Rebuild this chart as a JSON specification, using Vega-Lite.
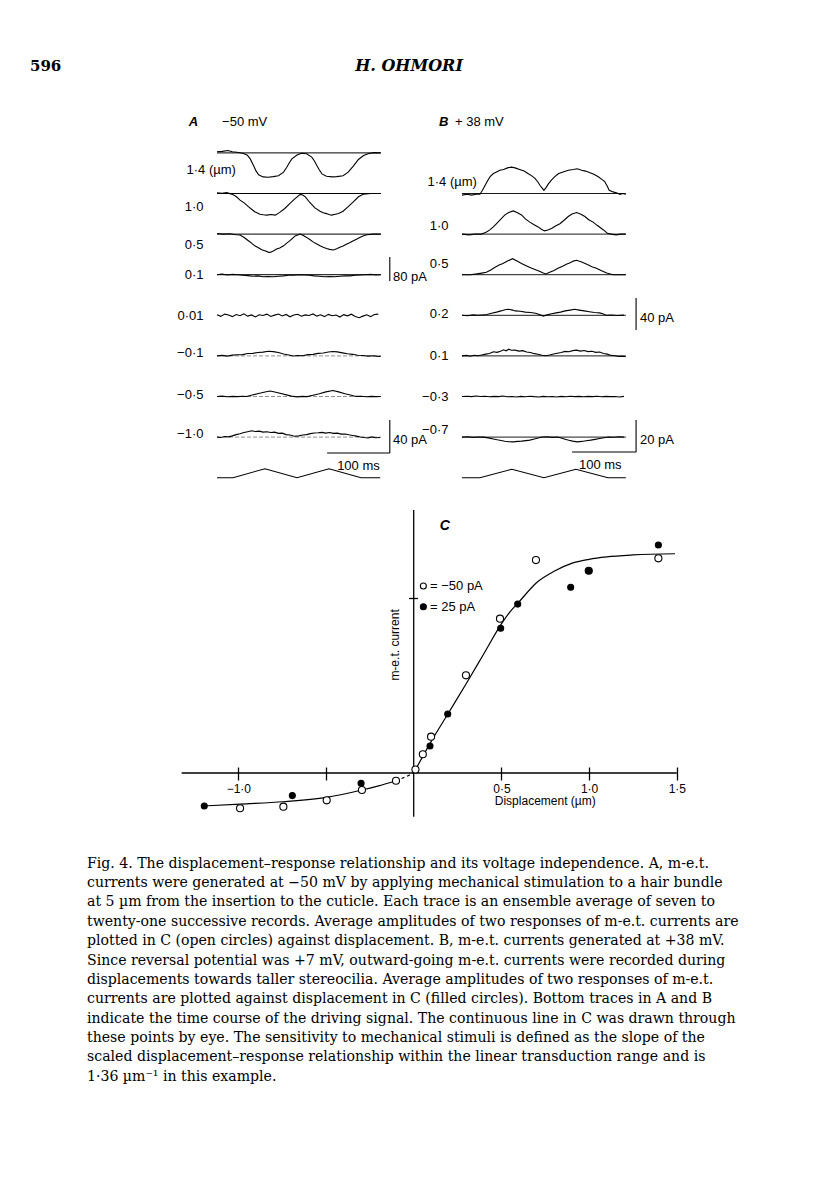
{
"$schema": "https://vega.github.io/schema/vega-lite/v6.json",
"background": "white",
"padding": 0,
"spacing": 0,
"config": {"view": {"stroke": null}},
"title": {
  "text": [
    "Fig. 4. The displacement–response relationship and its voltage independence. A, m-e.t.",
    "currents were generated at −50 mV by applying mechanical stimulation to a hair bundle",
    "at 5 µm from the insertion to the cuticle. Each trace is an ensemble average of seven to",
    "twenty-one successive records. Average amplitudes of two responses of m-e.t. currents are",
    "plotted in C (open circles) against displacement. B, m-e.t. currents generated at +38 mV.",
    "Since reversal potential was +7 mV, outward-going m-e.t. currents were recorded during",
    "displacements towards taller stereocilia. Average amplitudes of two responses of m-e.t.",
    "currents are plotted against displacement in C (filled circles). Bottom traces in A and B",
    "indicate the time course of the driving signal. The continuous line in C was drawn through",
    "these points by eye. The sensitivity to mechanical stimuli is defined as the slope of the",
    "scaled displacement–response relationship within the linear transduction range and is",
    "1·36 µm⁻¹ in this example."
  ],
  "orient": "bottom", "anchor": "start", "frame": "group", "dx": 87, "offset": 26.5,
  "font": "DejaVu Serif", "fontSize": 14.1, "fontWeight": "normal", "color": "black", "lineHeight": 19.4
},
"datasets": {
  "A_top": [
    {"r":"1·4 (µm)","t":0,"i":4},{"r":"1·4 (µm)","t":8,"i":5},{"r":"1·4 (µm)","t":17,"i":8},{"r":"1·4 (µm)","t":24,"i":4},{"r":"1·4 (µm)","t":31,"i":2},{"r":"1·4 (µm)","t":40,"i":-1},{"r":"1·4 (µm)","t":47,"i":-7},{"r":"1·4 (µm)","t":52,"i":-20},{"r":"1·4 (µm)","t":57,"i":-42},{"r":"1·4 (µm)","t":61,"i":-60},{"r":"1·4 (µm)","t":65,"i":-73},{"r":"1·4 (µm)","t":72,"i":-80},{"r":"1·4 (µm)","t":80,"i":-81},{"r":"1·4 (µm)","t":88,"i":-79},{"r":"1·4 (µm)","t":96,"i":-76},{"r":"1·4 (µm)","t":104,"i":-64},{"r":"1·4 (µm)","t":109,"i":-48},{"r":"1·4 (µm)","t":113,"i":-33},{"r":"1·4 (µm)","t":117,"i":-20},{"r":"1·4 (µm)","t":125,"i":-7},{"r":"1·4 (µm)","t":132,"i":-1},{"r":"1·4 (µm)","t":140,"i":-3},{"r":"1·4 (µm)","t":148,"i":-14},{"r":"1·4 (µm)","t":152,"i":-26},{"r":"1·4 (µm)","t":156,"i":-42},{"r":"1·4 (µm)","t":160,"i":-57},{"r":"1·4 (µm)","t":164,"i":-70},{"r":"1·4 (µm)","t":171,"i":-78},{"r":"1·4 (µm)","t":180,"i":-80},{"r":"1·4 (µm)","t":187,"i":-79},{"r":"1·4 (µm)","t":197,"i":-76},{"r":"1·4 (µm)","t":205,"i":-64},{"r":"1·4 (µm)","t":213,"i":-44},{"r":"1·4 (µm)","t":221,"i":-22},{"r":"1·4 (µm)","t":229,"i":-9},{"r":"1·4 (µm)","t":236,"i":-3},{"r":"1·4 (µm)","t":245,"i":1},{"r":"1·4 (µm)","t":256,"i":0},
    {"r":"1·0","t":0,"i":2},{"r":"1·0","t":8,"i":1},{"r":"1·0","t":15,"i":3},{"r":"1·0","t":23,"i":-2},{"r":"1·0","t":30,"i":-10},{"r":"1·0","t":36,"i":-22},{"r":"1·0","t":43,"i":-32},{"r":"1·0","t":49,"i":-44},{"r":"1·0","t":55,"i":-54},{"r":"1·0","t":59,"i":-61},{"r":"1·0","t":64,"i":-66},{"r":"1·0","t":67,"i":-69},{"r":"1·0","t":72,"i":-71},{"r":"1·0","t":78,"i":-72},{"r":"1·0","t":84,"i":-70},{"r":"1·0","t":91,"i":-72},{"r":"1·0","t":98,"i":-63},{"r":"1·0","t":106,"i":-50},{"r":"1·0","t":114,"i":-33},{"r":"1·0","t":122,"i":-17},{"r":"1·0","t":130,"i":-3},{"r":"1·0","t":134,"i":-5},{"r":"1·0","t":138,"i":-11},{"r":"1·0","t":145,"i":-30},{"r":"1·0","t":153,"i":-48},{"r":"1·0","t":161,"i":-59},{"r":"1·0","t":166,"i":-64},{"r":"1·0","t":171,"i":-67},{"r":"1·0","t":176,"i":-71},{"r":"1·0","t":179,"i":-72},{"r":"1·0","t":185,"i":-69},{"r":"1·0","t":190,"i":-67},{"r":"1·0","t":197,"i":-59},{"r":"1·0","t":205,"i":-44},{"r":"1·0","t":213,"i":-28},{"r":"1·0","t":221,"i":-11},{"r":"1·0","t":229,"i":-2},{"r":"1·0","t":240,"i":0},{"r":"1·0","t":256,"i":0},
    {"r":"0·5","t":0,"i":2},{"r":"0·5","t":10,"i":0},{"r":"0·5","t":20,"i":1},{"r":"0·5","t":30,"i":-2},{"r":"0·5","t":36,"i":-3},{"r":"0·5","t":43,"i":-12},{"r":"0·5","t":49,"i":-22},{"r":"0·5","t":54,"i":-30},{"r":"0·5","t":59,"i":-39},{"r":"0·5","t":64,"i":-45},{"r":"0·5","t":70,"i":-52},{"r":"0·5","t":76,"i":-56},{"r":"0·5","t":80,"i":-60},{"r":"0·5","t":83,"i":-61},{"r":"0·5","t":88,"i":-56},{"r":"0·5","t":93,"i":-50},{"r":"0·5","t":98,"i":-46},{"r":"0·5","t":104,"i":-39},{"r":"0·5","t":109,"i":-30},{"r":"0·5","t":114,"i":-22},{"r":"0·5","t":118,"i":-14},{"r":"0·5","t":122,"i":-6},{"r":"0·5","t":130,"i":0},{"r":"0·5","t":135,"i":-5},{"r":"0·5","t":140,"i":-11},{"r":"0·5","t":145,"i":-18},{"r":"0·5","t":150,"i":-26},{"r":"0·5","t":156,"i":-33},{"r":"0·5","t":161,"i":-39},{"r":"0·5","t":166,"i":-44},{"r":"0·5","t":171,"i":-48},{"r":"0·5","t":176,"i":-51},{"r":"0·5","t":182,"i":-53},{"r":"0·5","t":187,"i":-49},{"r":"0·5","t":192,"i":-44},{"r":"0·5","t":197,"i":-40},{"r":"0·5","t":203,"i":-33},{"r":"0·5","t":208,"i":-28},{"r":"0·5","t":213,"i":-22},{"r":"0·5","t":218,"i":-17},{"r":"0·5","t":223,"i":-11},{"r":"0·5","t":228,"i":-6},{"r":"0·5","t":234,"i":-2},{"r":"0·5","t":245,"i":0},{"r":"0·5","t":256,"i":0},
    {"r":"0·1","t":0,"i":0},{"r":"0·1","t":8,"i":2},{"r":"0·1","t":16,"i":-1},{"r":"0·1","t":24,"i":1},{"r":"0·1","t":32,"i":0},{"r":"0·1","t":40,"i":-2},{"r":"0·1","t":48,"i":-3},{"r":"0·1","t":56,"i":-5},{"r":"0·1","t":64,"i":-4},{"r":"0·1","t":72,"i":-7},{"r":"0·1","t":80,"i":-6},{"r":"0·1","t":88,"i":-7},{"r":"0·1","t":96,"i":-5},{"r":"0·1","t":104,"i":-4},{"r":"0·1","t":112,"i":-2},{"r":"0·1","t":120,"i":-2},{"r":"0·1","t":128,"i":0},{"r":"0·1","t":136,"i":-1},{"r":"0·1","t":144,"i":-2},{"r":"0·1","t":152,"i":-4},{"r":"0·1","t":160,"i":-5},{"r":"0·1","t":168,"i":-7},{"r":"0·1","t":176,"i":-6},{"r":"0·1","t":184,"i":-7},{"r":"0·1","t":192,"i":-5},{"r":"0·1","t":200,"i":-4},{"r":"0·1","t":208,"i":-4},{"r":"0·1","t":216,"i":-2},{"r":"0·1","t":224,"i":-1},{"r":"0·1","t":232,"i":0},{"r":"0·1","t":240,"i":1},{"r":"0·1","t":248,"i":-1},{"r":"0·1","t":256,"i":0},
    {"r":"0·1","s":"80 pA","t":270,"i":-21},{"r":"0·1","s":"80 pA","t":270,"i":59}
  ],
  "A_bot": [
    {"r":"0·01","t":0,"i":0.8},{"r":"0·01","t":6,"i":-1.3},{"r":"0·01","t":12,"i":1.4},{"r":"0·01","t":18,"i":0.3},{"r":"0·01","t":24,"i":-1.6},{"r":"0·01","t":30,"i":1.0},{"r":"0·01","t":36,"i":-0.5},{"r":"0·01","t":42,"i":1.8},{"r":"0·01","t":48,"i":-1.0},{"r":"0·01","t":54,"i":0.5},{"r":"0·01","t":60,"i":-1.9},{"r":"0·01","t":66,"i":0.6},{"r":"0·01","t":72,"i":-0.3},{"r":"0·01","t":78,"i":1.4},{"r":"0·01","t":84,"i":-1.4},{"r":"0·01","t":90,"i":0.2},{"r":"0·01","t":96,"i":1.6},{"r":"0·01","t":102,"i":-0.8},{"r":"0·01","t":108,"i":1.0},{"r":"0·01","t":114,"i":-1.8},{"r":"0·01","t":120,"i":0.3},{"r":"0·01","t":126,"i":1.3},{"r":"0·01","t":132,"i":-1.1},{"r":"0·01","t":138,"i":0.5},{"r":"0·01","t":144,"i":-0.3},{"r":"0·01","t":150,"i":1.6},{"r":"0·01","t":156,"i":-1.0},{"r":"0·01","t":162,"i":0.6},{"r":"0·01","t":168,"i":-1.6},{"r":"0·01","t":174,"i":1.1},{"r":"0·01","t":180,"i":-0.5},{"r":"0·01","t":186,"i":0.3},{"r":"0·01","t":192,"i":-2.1},{"r":"0·01","t":198,"i":0.8},{"r":"0·01","t":204,"i":-0.6},{"r":"0·01","t":210,"i":1.3},{"r":"0·01","t":216,"i":-1.4},{"r":"0·01","t":222,"i":-2.9},{"r":"0·01","t":228,"i":-1.0},{"r":"0·01","t":234,"i":0.6},{"r":"0·01","t":240,"i":-1.6},{"r":"0·01","t":246,"i":1.0},{"r":"0·01","t":252,"i":1.4},
    {"r":"−0·1","t":0,"i":0},{"r":"−0·1","t":8,"i":0.6},{"r":"−0·1","t":16,"i":-0.3},{"r":"−0·1","t":24,"i":0.9},{"r":"−0·1","t":32,"i":1.4},{"r":"−0·1","t":40,"i":1.6},{"r":"−0·1","t":48,"i":2.9},{"r":"−0·1","t":56,"i":3.1},{"r":"−0·1","t":64,"i":4.2},{"r":"−0·1","t":72,"i":4.6},{"r":"−0·1","t":80,"i":5.6},{"r":"−0·1","t":88,"i":5.2},{"r":"−0·1","t":96,"i":4.1},{"r":"−0·1","t":104,"i":2.4},{"r":"−0·1","t":112,"i":1.1},{"r":"−0·1","t":119,"i":-0.2},{"r":"−0·1","t":126,"i":0.4},{"r":"−0·1","t":134,"i":0.2},{"r":"−0·1","t":142,"i":1.5},{"r":"−0·1","t":150,"i":1.9},{"r":"−0·1","t":158,"i":3.1},{"r":"−0·1","t":166,"i":3.6},{"r":"−0·1","t":174,"i":4.8},{"r":"−0·1","t":181,"i":5.4},{"r":"−0·1","t":188,"i":4.9},{"r":"−0·1","t":196,"i":3.7},{"r":"−0·1","t":204,"i":2.6},{"r":"−0·1","t":212,"i":1.9},{"r":"−0·1","t":220,"i":0.8},{"r":"−0·1","t":228,"i":0.5},{"r":"−0·1","t":236,"i":-0.3},{"r":"−0·1","t":244,"i":0.1},{"r":"−0·1","t":252,"i":-0.6},{"r":"−0·1","t":256,"i":-0.4},
    {"r":"−0·5","t":0,"i":0},{"r":"−0·5","t":8,"i":0.4},{"r":"−0·5","t":16,"i":-0.3},{"r":"−0·5","t":24,"i":0.2},{"r":"−0·5","t":32,"i":-0.2},{"r":"−0·5","t":40,"i":0.3},{"r":"−0·5","t":46,"i":0},{"r":"−0·5","t":55,"i":1.8},{"r":"−0·5","t":65,"i":3.6},{"r":"−0·5","t":75,"i":5.4},{"r":"−0·5","t":83,"i":6.6},{"r":"−0·5","t":92,"i":5.2},{"r":"−0·5","t":100,"i":3.6},{"r":"−0·5","t":110,"i":1.7},{"r":"−0·5","t":119,"i":0.1},{"r":"−0·5","t":126,"i":-0.4},{"r":"−0·5","t":133,"i":0.2},{"r":"−0·5","t":141,"i":-0.1},{"r":"−0·5","t":150,"i":1.6},{"r":"−0·5","t":160,"i":3.4},{"r":"−0·5","t":170,"i":5.6},{"r":"−0·5","t":181,"i":7.2},{"r":"−0·5","t":190,"i":5.6},{"r":"−0·5","t":200,"i":3.4},{"r":"−0·5","t":210,"i":1.6},{"r":"−0·5","t":217,"i":0.1},{"r":"−0·5","t":225,"i":0.3},{"r":"−0·5","t":233,"i":-0.3},{"r":"−0·5","t":241,"i":0.2},{"r":"−0·5","t":249,"i":-0.2},{"r":"−0·5","t":256,"i":0},
    {"r":"−1·0","t":0,"i":0},{"r":"−1·0","t":6,"i":-0.5},{"r":"−1·0","t":12,"i":0.8},{"r":"−1·0","t":18,"i":0.3},{"r":"−1·0","t":24,"i":1.5},{"r":"−1·0","t":30,"i":3},{"r":"−1·0","t":36,"i":4},{"r":"−1·0","t":42,"i":5.5},{"r":"−1·0","t":48,"i":6.5},{"r":"−1·0","t":54,"i":7.6},{"r":"−1·0","t":60,"i":6.8},{"r":"−1·0","t":66,"i":7.2},{"r":"−1·0","t":72,"i":6},{"r":"−1·0","t":78,"i":6.5},{"r":"−1·0","t":84,"i":5.5},{"r":"−1·0","t":90,"i":6},{"r":"−1·0","t":96,"i":4.5},{"r":"−1·0","t":102,"i":4.8},{"r":"−1·0","t":108,"i":3},{"r":"−1·0","t":114,"i":2.5},{"r":"−1·0","t":121,"i":1},{"r":"−1·0","t":128,"i":1.5},{"r":"−1·0","t":134,"i":2.5},{"r":"−1·0","t":140,"i":3},{"r":"−1·0","t":146,"i":4.2},{"r":"−1·0","t":152,"i":5},{"r":"−1·0","t":158,"i":5.2},{"r":"−1·0","t":164,"i":5.7},{"r":"−1·0","t":170,"i":4.8},{"r":"−1·0","t":176,"i":5.5},{"r":"−1·0","t":182,"i":4.5},{"r":"−1·0","t":188,"i":4.8},{"r":"−1·0","t":194,"i":3.6},{"r":"−1·0","t":200,"i":3.8},{"r":"−1·0","t":206,"i":2.8},{"r":"−1·0","t":212,"i":2},{"r":"−1·0","t":218,"i":1.2},{"r":"−1·0","t":224,"i":0.2},{"r":"−1·0","t":230,"i":-0.5},{"r":"−1·0","t":236,"i":-1},{"r":"−1·0","t":242,"i":0.2},{"r":"−1·0","t":248,"i":-0.8},{"r":"−1·0","t":255,"i":-0.5},
    {"r":"−1·0","s":"40 pA","t":270,"i":20.7},{"r":"−1·0","s":"40 pA","t":270,"i":-19.3},
    {"r":"−1·0","s":"100 ms","t":172,"i":-19.3},{"r":"−1·0","s":"100 ms","t":270,"i":-19.3}
  ],
  "A_drive": [
    {"r":"drive","t":0,"i":0},{"r":"drive","t":25,"i":0},{"r":"drive","t":75,"i":1},{"r":"drive","t":125,"i":0},{"r":"drive","t":175,"i":1},{"r":"drive","t":225,"i":0},{"r":"drive","t":255,"i":0}
  ],
  "A_base": [
    {"r":"1·4 (µm)","t0":0,"t1":256,"k":"solid"},{"r":"1·0","t0":0,"t1":256,"k":"solid"},{"r":"0·5","t0":0,"t1":256,"k":"solid"},{"r":"0·1","t0":0,"t1":256,"k":"solid"},
    {"r":"−0·1","t0":0,"t1":256,"k":"faint"},{"r":"−0·5","t0":0,"t1":256,"k":"faint"},{"r":"−1·0","t0":0,"t1":256,"k":"faint"}
  ],
  "B_top": [
    {"r":"1·4 (µm)","t":-3,"i":-2},{"r":"1·4 (µm)","t":5,"i":-1},{"r":"1·4 (µm)","t":12,"i":-2},{"r":"1·4 (µm)","t":19,"i":-1},{"r":"1·4 (µm)","t":25,"i":-1},{"r":"1·4 (µm)","t":29,"i":4},{"r":"1·4 (µm)","t":33,"i":10},{"r":"1·4 (µm)","t":37,"i":16},{"r":"1·4 (µm)","t":41,"i":21},{"r":"1·4 (µm)","t":46,"i":25},{"r":"1·4 (µm)","t":51,"i":27},{"r":"1·4 (µm)","t":56,"i":29},{"r":"1·4 (µm)","t":62,"i":30},{"r":"1·4 (µm)","t":68,"i":32},{"r":"1·4 (µm)","t":74,"i":33},{"r":"1·4 (µm)","t":80,"i":32},{"r":"1·4 (µm)","t":87,"i":30},{"r":"1·4 (µm)","t":94,"i":28},{"r":"1·4 (µm)","t":100,"i":25},{"r":"1·4 (µm)","t":106,"i":22},{"r":"1·4 (µm)","t":111,"i":19},{"r":"1·4 (µm)","t":115,"i":15},{"r":"1·4 (µm)","t":119,"i":10},{"r":"1·4 (µm)","t":122,"i":7},{"r":"1·4 (µm)","t":125,"i":4},{"r":"1·4 (µm)","t":128,"i":7},{"r":"1·4 (µm)","t":132,"i":12},{"r":"1·4 (µm)","t":137,"i":17},{"r":"1·4 (µm)","t":142,"i":21},{"r":"1·4 (µm)","t":148,"i":25},{"r":"1·4 (µm)","t":155,"i":27},{"r":"1·4 (µm)","t":163,"i":29},{"r":"1·4 (µm)","t":171,"i":30},{"r":"1·4 (µm)","t":177,"i":31},{"r":"1·4 (µm)","t":184,"i":29},{"r":"1·4 (µm)","t":190,"i":28},{"r":"1·4 (µm)","t":197,"i":26},{"r":"1·4 (µm)","t":203,"i":24},{"r":"1·4 (µm)","t":210,"i":21},{"r":"1·4 (µm)","t":215,"i":18},{"r":"1·4 (µm)","t":220,"i":15},{"r":"1·4 (µm)","t":224,"i":9},{"r":"1·4 (µm)","t":227,"i":4},{"r":"1·4 (µm)","t":233,"i":2},{"r":"1·4 (µm)","t":238,"i":1},{"r":"1·4 (µm)","t":244,"i":-1},{"r":"1·4 (µm)","t":248,"i":0},{"r":"1·4 (µm)","t":253,"i":-1},
    {"r":"1·0","t":-3,"i":0},{"r":"1·0","t":8,"i":-1},{"r":"1·0","t":17,"i":0},{"r":"1·0","t":27,"i":0},{"r":"1·0","t":34,"i":2},{"r":"1·0","t":40,"i":5},{"r":"1·0","t":46,"i":9},{"r":"1·0","t":51,"i":13},{"r":"1·0","t":57,"i":18},{"r":"1·0","t":64,"i":24},{"r":"1·0","t":70,"i":27},{"r":"1·0","t":77,"i":29},{"r":"1·0","t":83,"i":27},{"r":"1·0","t":90,"i":24},{"r":"1·0","t":96,"i":19},{"r":"1·0","t":103,"i":15},{"r":"1·0","t":109,"i":12},{"r":"1·0","t":116,"i":9},{"r":"1·0","t":121,"i":6},{"r":"1·0","t":126,"i":4},{"r":"1·0","t":131,"i":5},{"r":"1·0","t":137,"i":7},{"r":"1·0","t":143,"i":10},{"r":"1·0","t":150,"i":13},{"r":"1·0","t":156,"i":17},{"r":"1·0","t":163,"i":22},{"r":"1·0","t":169,"i":25},{"r":"1·0","t":176,"i":27},{"r":"1·0","t":182,"i":25},{"r":"1·0","t":189,"i":22},{"r":"1·0","t":195,"i":18},{"r":"1·0","t":202,"i":15},{"r":"1·0","t":208,"i":11},{"r":"1·0","t":215,"i":7},{"r":"1·0","t":220,"i":4},{"r":"1·0","t":224,"i":1},{"r":"1·0","t":230,"i":0},{"r":"1·0","t":238,"i":-1},{"r":"1·0","t":245,"i":0},{"r":"1·0","t":253,"i":0},
    {"r":"0·5","t":-3,"i":0},{"r":"0·5","t":10,"i":0},{"r":"0·5","t":20,"i":1},{"r":"0·5","t":28,"i":2},{"r":"0·5","t":35,"i":3},{"r":"0·5","t":42,"i":6},{"r":"0·5","t":48,"i":9},{"r":"0·5","t":55,"i":12},{"r":"0·5","t":61,"i":14},{"r":"0·5","t":68,"i":17},{"r":"0·5","t":76,"i":20},{"r":"0·5","t":83,"i":17},{"r":"0·5","t":90,"i":14},{"r":"0·5","t":98,"i":11},{"r":"0·5","t":106,"i":8},{"r":"0·5","t":113,"i":6},{"r":"0·5","t":119,"i":4},{"r":"0·5","t":124,"i":2},{"r":"0·5","t":128,"i":1},{"r":"0·5","t":134,"i":3},{"r":"0·5","t":140,"i":5},{"r":"0·5","t":147,"i":8},{"r":"0·5","t":155,"i":11},{"r":"0·5","t":160,"i":13},{"r":"0·5","t":166,"i":15},{"r":"0·5","t":171,"i":17},{"r":"0·5","t":176,"i":18},{"r":"0·5","t":184,"i":16},{"r":"0·5","t":192,"i":13},{"r":"0·5","t":200,"i":10},{"r":"0·5","t":207,"i":8},{"r":"0·5","t":215,"i":5},{"r":"0·5","t":223,"i":2},{"r":"0·5","t":233,"i":0},{"r":"0·5","t":243,"i":0},{"r":"0·5","t":253,"i":0},
    {"r":"0·2","t":-3,"i":0},{"r":"0·2","t":6,"i":-0.5},{"r":"0·2","t":14,"i":0.5},{"r":"0·2","t":22,"i":0},{"r":"0·2","t":30,"i":0.5},{"r":"0·2","t":36,"i":1},{"r":"0·2","t":43,"i":2.5},{"r":"0·2","t":51,"i":4},{"r":"0·2","t":58,"i":5.5},{"r":"0·2","t":64,"i":7},{"r":"0·2","t":70,"i":7.5},{"r":"0·2","t":76,"i":6.5},{"r":"0·2","t":80,"i":5.5},{"r":"0·2","t":88,"i":5},{"r":"0·2","t":96,"i":4},{"r":"0·2","t":104,"i":3.5},{"r":"0·2","t":112,"i":2.5},{"r":"0·2","t":118,"i":1},{"r":"0·2","t":124,"i":-1},{"r":"0·2","t":130,"i":0.5},{"r":"0·2","t":137,"i":2},{"r":"0·2","t":144,"i":3},{"r":"0·2","t":151,"i":4},{"r":"0·2","t":158,"i":5.5},{"r":"0·2","t":166,"i":6.5},{"r":"0·2","t":173,"i":7.5},{"r":"0·2","t":180,"i":6.5},{"r":"0·2","t":188,"i":5.5},{"r":"0·2","t":196,"i":4.5},{"r":"0·2","t":204,"i":3.5},{"r":"0·2","t":212,"i":3},{"r":"0·2","t":218,"i":1.5},{"r":"0·2","t":222,"i":0},{"r":"0·2","t":230,"i":0.3},{"r":"0·2","t":240,"i":-0.3},{"r":"0·2","t":250,"i":0.2},
    {"r":"0·2","s":"40 pA","t":269,"i":21.6},{"r":"0·2","s":"40 pA","t":269,"i":-18.4}
  ],
  "B_bot": [
    {"r":"0·1","t":-3,"i":0},{"r":"0·1","t":4,"i":0.3},{"r":"0·1","t":10,"i":-0.2},{"r":"0·1","t":16,"i":0.4},{"r":"0·1","t":22,"i":0.1},{"r":"0·1","t":28,"i":0.6},{"r":"0·1","t":34,"i":1.1},{"r":"0·1","t":40,"i":1.5},{"r":"0·1","t":46,"i":2.6},{"r":"0·1","t":52,"i":2.2},{"r":"0·1","t":58,"i":3.1},{"r":"0·1","t":62,"i":3.8},{"r":"0·1","t":66,"i":3.2},{"r":"0·1","t":70,"i":4.2},{"r":"0·1","t":74,"i":3.5},{"r":"0·1","t":80,"i":3.6},{"r":"0·1","t":86,"i":3.0},{"r":"0·1","t":92,"i":3.3},{"r":"0·1","t":98,"i":2.4},{"r":"0·1","t":104,"i":2.1},{"r":"0·1","t":110,"i":1.4},{"r":"0·1","t":116,"i":1.0},{"r":"0·1","t":122,"i":0.4},{"r":"0·1","t":128,"i":0.1},{"r":"0·1","t":134,"i":0.6},{"r":"0·1","t":140,"i":1.2},{"r":"0·1","t":146,"i":1.7},{"r":"0·1","t":152,"i":2.1},{"r":"0·1","t":158,"i":2.8},{"r":"0·1","t":164,"i":2.6},{"r":"0·1","t":170,"i":3.3},{"r":"0·1","t":176,"i":3.6},{"r":"0·1","t":182,"i":3.0},{"r":"0·1","t":188,"i":3.4},{"r":"0·1","t":194,"i":2.7},{"r":"0·1","t":200,"i":2.9},{"r":"0·1","t":206,"i":2.2},{"r":"0·1","t":212,"i":2.4},{"r":"0·1","t":218,"i":1.5},{"r":"0·1","t":224,"i":1.1},{"r":"0·1","t":230,"i":0.3},{"r":"0·1","t":236,"i":0.1},{"r":"0·1","t":242,"i":-0.4},{"r":"0·1","t":248,"i":-0.2},{"r":"0·1","t":253,"i":-0.5},
    {"r":"−0·3","t":-3,"i":0},{"r":"−0·3","t":5,"i":0.2},{"r":"−0·3","t":12,"i":-0.1},{"r":"−0·3","t":19,"i":0.3},{"r":"−0·3","t":26,"i":0.0},{"r":"−0·3","t":33,"i":0.2},{"r":"−0·3","t":40,"i":-0.2},{"r":"−0·3","t":47,"i":0.1},{"r":"−0·3","t":54,"i":-0.1},{"r":"−0·3","t":61,"i":0.3},{"r":"−0·3","t":68,"i":-0.2},{"r":"−0·3","t":75,"i":0.0},{"r":"−0·3","t":82,"i":-0.3},{"r":"−0·3","t":89,"i":0.1},{"r":"−0·3","t":96,"i":-0.2},{"r":"−0·3","t":103,"i":0.2},{"r":"−0·3","t":110,"i":-0.1},{"r":"−0·3","t":117,"i":-0.3},{"r":"−0·3","t":124,"i":0.1},{"r":"−0·3","t":131,"i":-0.2},{"r":"−0·3","t":138,"i":0.0},{"r":"−0·3","t":145,"i":-0.3},{"r":"−0·3","t":152,"i":0.1},{"r":"−0·3","t":159,"i":-0.2},{"r":"−0·3","t":166,"i":0.2},{"r":"−0·3","t":173,"i":-0.1},{"r":"−0·3","t":180,"i":0.1},{"r":"−0·3","t":187,"i":-0.2},{"r":"−0·3","t":194,"i":0.1},{"r":"−0·3","t":201,"i":-0.1},{"r":"−0·3","t":208,"i":0.2},{"r":"−0·3","t":215,"i":-0.2},{"r":"−0·3","t":222,"i":0.1},{"r":"−0·3","t":229,"i":-0.1},{"r":"−0·3","t":236,"i":0.0},{"r":"−0·3","t":243,"i":-0.3},{"r":"−0·3","t":250,"i":0.1},
    {"r":"−0·7","t":-3,"i":0},{"r":"−0·7","t":6,"i":0.2},{"r":"−0·7","t":14,"i":-0.2},{"r":"−0·7","t":22,"i":0.1},{"r":"−0·7","t":30,"i":0},{"r":"−0·7","t":38,"i":-0.5},{"r":"−0·7","t":46,"i":-1.2},{"r":"−0·7","t":52,"i":-1.7},{"r":"−0·7","t":58,"i":-2.1},{"r":"−0·7","t":64,"i":-2.6},{"r":"−0·7","t":70,"i":-2.9},{"r":"−0·7","t":77,"i":-3.0},{"r":"−0·7","t":84,"i":-2.7},{"r":"−0·7","t":90,"i":-2.5},{"r":"−0·7","t":97,"i":-2.2},{"r":"−0·7","t":103,"i":-1.9},{"r":"−0·7","t":110,"i":-1.2},{"r":"−0·7","t":116,"i":-0.6},{"r":"−0·7","t":122,"i":0.1},{"r":"−0·7","t":130,"i":0.2},{"r":"−0·7","t":138,"i":-0.2},{"r":"−0·7","t":146,"i":0.1},{"r":"−0·7","t":152,"i":-0.6},{"r":"−0·7","t":158,"i":-1.3},{"r":"−0·7","t":164,"i":-2.0},{"r":"−0·7","t":170,"i":-2.5},{"r":"−0·7","t":177,"i":-3.0},{"r":"−0·7","t":184,"i":-2.7},{"r":"−0·7","t":191,"i":-2.3},{"r":"−0·7","t":198,"i":-1.9},{"r":"−0·7","t":205,"i":-1.4},{"r":"−0·7","t":212,"i":-0.9},{"r":"−0·7","t":219,"i":-0.4},{"r":"−0·7","t":226,"i":0.1},{"r":"−0·7","t":234,"i":-0.1},{"r":"−0·7","t":242,"i":0.2},{"r":"−0·7","t":250,"i":0},
    {"r":"−0·7","s":"20 pA","t":269,"i":10.7},{"r":"−0·7","s":"20 pA","t":269,"i":-9.3},
    {"r":"−0·7","s":"100 ms","t":169,"i":-9.3},{"r":"−0·7","s":"100 ms","t":269,"i":-9.3}
  ],
  "B_drive": [
    {"r":"drive","t":-3,"i":0},{"r":"drive","t":25,"i":0},{"r":"drive","t":75,"i":1},{"r":"drive","t":125,"i":0},{"r":"drive","t":175,"i":1},{"r":"drive","t":225,"i":0},{"r":"drive","t":253,"i":0}
  ],
  "B_base": [
    {"r":"1·4 (µm)","t0":-3,"t1":253,"k":"dashdot"},{"r":"1·0","t0":-3,"t1":253,"k":"dashdot"},{"r":"0·5","t0":-3,"t1":253,"k":"dashdot"},{"r":"0·2","t0":-3,"t1":253,"k":"dashdot"},{"r":"0·1","t0":-3,"t1":253,"k":"dashdot"},{"r":"−0·7","t0":-3,"t1":253,"k":"dashdot"}
  ],
  "C_pts": [
    {"Vh":"−50 mV","d":-0.99,"y":-0.201},{"Vh":"−50 mV","d":-0.743,"y":-0.192},{"Vh":"−50 mV","d":-0.496,"y":-0.156},{"Vh":"−50 mV","d":-0.295,"y":-0.097},{"Vh":"−50 mV","d":-0.101,"y":-0.044},{"Vh":"−50 mV","d":0.01,"y":0.02},{"Vh":"−50 mV","d":0.052,"y":0.107},{"Vh":"−50 mV","d":0.099,"y":0.207},{"Vh":"−50 mV","d":0.298,"y":0.557},{"Vh":"−50 mV","d":0.492,"y":0.88},{"Vh":"−50 mV","d":0.697,"y":1.214},{"Vh":"−50 mV","d":0.998,"y":1.153},{"Vh":"−50 mV","d":1.395,"y":1.224},
    {"Vh":"+38 mV","d":-1.194,"y":-0.188},{"Vh":"+38 mV","d":-0.692,"y":-0.129},{"Vh":"+38 mV","d":-0.3,"y":-0.059},{"Vh":"+38 mV","d":0.093,"y":0.154},{"Vh":"+38 mV","d":0.194,"y":0.336},{"Vh":"+38 mV","d":0.496,"y":0.825},{"Vh":"+38 mV","d":0.593,"y":0.963},{"Vh":"+38 mV","d":0.895,"y":1.059},{"Vh":"+38 mV","d":0.998,"y":1.153},{"Vh":"+38 mV","d":1.395,"y":1.3}
  ],
  "C_curve": [
    {"seg":"left","d":-1.194,"y":-0.188},{"seg":"left","d":-0.99,"y":-0.177},{"seg":"left","d":-0.743,"y":-0.164},{"seg":"left","d":-0.496,"y":-0.139},{"seg":"left","d":-0.295,"y":-0.097},{"seg":"left","d":-0.2,"y":-0.073},{"seg":"left","d":-0.101,"y":-0.044},
    {"seg":"dash","d":-0.101,"y":-0.044},{"seg":"dash","d":-0.05,"y":-0.024},{"seg":"dash","d":0,"y":0},
    {"seg":"right","d":0,"y":0},{"seg":"right","d":0.1,"y":0.18},{"seg":"right","d":0.2,"y":0.345},{"seg":"right","d":0.3,"y":0.51},{"seg":"right","d":0.4,"y":0.68},{"seg":"right","d":0.5,"y":0.85},{"seg":"right","d":0.55,"y":0.92},{"seg":"right","d":0.6,"y":0.975},{"seg":"right","d":0.7,"y":1.085},{"seg":"right","d":0.8,"y":1.15},{"seg":"right","d":0.9,"y":1.195},{"seg":"right","d":1.0,"y":1.218},{"seg":"right","d":1.1,"y":1.232},{"seg":"right","d":1.25,"y":1.243},{"seg":"right","d":1.49,"y":1.25}
  ],
  "C_key": [
    {"Vh":"−50 mV","label":"= −50 pA"},{"Vh":"+38 mV","label":"= 25 pA"}
  ]
},
"vconcat": [
  {
    "width": 816, "height": 92,
    "data": {"values": [{"page": "596", "head": "H. OHMORI"}]},
    "layer": [
      {"mark": {"type": "text", "align": "left", "baseline": "middle", "font": "DejaVu Serif", "fontWeight": "bold", "fontSize": 15, "color": "black"},
       "encoding": {
         "x": {"datum": 30, "type": "quantitative", "scale": {"domain": [0, 816], "nice": false, "zero": false}, "axis": null},
         "y": {"datum": 66, "type": "quantitative", "scale": {"domain": [92, 0], "nice": false, "zero": false}, "axis": null},
         "text": {"field": "page"}}},
      {"mark": {"type": "text", "align": "center", "baseline": "middle", "font": "DejaVu Serif", "fontWeight": "bold", "fontStyle": "italic", "fontSize": 16, "color": "black"},
       "encoding": {
         "x": {"datum": 409, "type": "quantitative", "scale": {"domain": [0, 816], "nice": false, "zero": false}, "axis": null},
         "y": {"datum": 66, "type": "quantitative", "scale": {"domain": [92, 0], "nice": false, "zero": false}, "axis": null},
         "text": {"field": "head"}}}
    ]
  },
  {
    "hconcat": [
      {"width": 164, "height": 406, "data": {"values": []}, "mark": {"type": "point", "opacity": 0}, "encoding": {}},
      {
        "width": 192, "height": 406,
        "resolve": {"scale": {"yOffset": "independent"}},
        "encoding": {
          "y": {"field": "r", "type": "nominal",
                "scale": {"type": "point", "padding": 0.5, "domain": ["hdr","1·4 (µm)","1·0","0·5","0·1","0·01","−0·1","−0·5","−1·0","drive"]},
                "axis": {"orient": "left", "domain": false, "ticks": false, "grid": false, "title": null, "labelOverlap": false,
                         "labelFont": "Liberation Sans", "labelFontSize": 13, "labelColor": "black", "labelBaseline": "middle",
                         "labelExpr": "indexof(['hdr','blank','drive'], datum.value) >= 0 ? '' : datum.value",
                         "labelAlign": {"condition": {"test": "datum.value === '1·4 (µm)'", "value": "left"}, "value": "right"},
                         "labelPadding": {"condition": {"test": "datum.value === '1·4 (µm)'", "value": 31}, "value": 14},
                         "labelOffset": {"condition": [
                           {"test": "datum.value === '1·4 (µm)'", "value": 17},
                           {"test": "datum.value === '1·0'", "value": 13},
                           {"test": "datum.value === '0·5'", "value": 10},
                           {"test": "datum.value === '−0·1'", "value": -3},
                           {"test": "datum.value === '−0·5'", "value": -2},
                           {"test": "datum.value === '−1·0'", "value": -4}], "value": 0}}}
        },
        "layer": [
          {"data": {"name": "A_base"},
           "mark": {"type": "rule", "strokeWidth": 1},
           "encoding": {
             "x": {"field": "t0", "type": "quantitative", "scale": {"domain": [0, 300], "nice": false, "zero": false}, "axis": null},
             "x2": {"field": "t1"},
             "color": {"field": "k", "type": "nominal", "scale": {"domain": ["solid", "faint"], "range": ["black", "#8f8f8f"]}, "legend": null},
             "strokeDash": {"field": "k", "type": "nominal", "scale": {"domain": ["solid", "faint"], "range": [[1, 0], [4, 2]]}, "legend": null}}},
          {"data": {"name": "A_top"},
           "mark": {"type": "line", "color": "black", "strokeWidth": 1.1},
           "encoding": {
             "x": {"field": "t", "type": "quantitative", "scale": {"domain": [0, 300], "nice": false, "zero": false}, "axis": null},
             "yOffset": {"field": "i", "type": "quantitative", "scale": {"domain": [-100, 100], "range": [30, -30]}},
             "detail": [{"field": "r"}, {"field": "s"}],
             "order": {"field": "t", "type": "quantitative"}}},
          {"data": {"name": "A_bot"},
           "mark": {"type": "line", "color": "black", "strokeWidth": 1.1},
           "encoding": {
             "x": {"field": "t", "type": "quantitative", "scale": {"domain": [0, 300], "nice": false, "zero": false}, "axis": null},
             "yOffset": {"field": "i", "type": "quantitative", "scale": {"domain": [-40, 40], "range": [33, -33]}},
             "detail": [{"field": "r"}, {"field": "s"}],
             "order": {"field": "t", "type": "quantitative"}}},
          {"data": {"name": "A_drive"},
           "mark": {"type": "line", "color": "black", "strokeWidth": 1.1},
           "encoding": {
             "x": {"field": "t", "type": "quantitative", "scale": {"domain": [0, 300], "nice": false, "zero": false}, "axis": null},
             "yOffset": {"field": "i", "type": "quantitative", "scale": {"domain": [0, 1], "range": [0, -9]}},
             "order": {"field": "t", "type": "quantitative"}}},
          {"data": {"values": [{"r": "0·1", "label": "80 pA"}]},
           "mark": {"type": "text", "align": "left", "baseline": "alphabetic", "dy": 6, "font": "Liberation Sans", "fontSize": 13, "color": "black"},
           "encoding": {
             "x": {"datum": 275, "type": "quantitative", "scale": {"domain": [0, 300], "nice": false, "zero": false}, "axis": null},
             "text": {"field": "label"}}},
          {"data": {"values": [{"r": "−1·0", "label": "40 pA"}]},
           "mark": {"type": "text", "align": "left", "baseline": "middle", "dy": 3, "font": "Liberation Sans", "fontSize": 13, "color": "black"},
           "encoding": {
             "x": {"datum": 275, "type": "quantitative", "scale": {"domain": [0, 300], "nice": false, "zero": false}, "axis": null},
             "text": {"field": "label"}}},
          {"data": {"values": [{"r": "−1·0", "label": "100 ms"}]},
           "mark": {"type": "text", "align": "center", "baseline": "middle", "dy": 29, "font": "Liberation Sans", "fontSize": 13, "color": "black"},
           "encoding": {
             "x": {"datum": 221, "type": "quantitative", "scale": {"domain": [0, 300], "nice": false, "zero": false}, "axis": null},
             "text": {"field": "label"}}},
          {"data": {"values": [{"r": "hdr", "panel": "A", "hold": "−50 mV"}]},
           "layer": [
             {"mark": {"type": "text", "align": "left", "baseline": "middle", "dy": 10, "font": "Liberation Sans", "fontStyle": "italic", "fontWeight": "bold", "fontSize": 13, "color": "black"},
              "encoding": {
                "x": {"datum": -44, "type": "quantitative", "scale": {"domain": [0, 300], "nice": false, "zero": false}, "axis": null},
                "text": {"field": "panel"}}},
             {"mark": {"type": "text", "align": "left", "baseline": "middle", "dy": 10, "font": "Liberation Sans", "fontSize": 13, "color": "black"},
              "encoding": {
                "x": {"datum": 8, "type": "quantitative", "scale": {"domain": [0, 300], "nice": false, "zero": false}, "axis": null},
                "text": {"field": "hold"}}}
           ]}
        ]
      },
      {
        "width": 192, "height": 406,
        "resolve": {"scale": {"yOffset": "independent"}},
        "encoding": {
          "y": {"field": "r", "type": "nominal",
                "scale": {"type": "point", "padding": 0.5, "domain": ["hdr","blank","1·4 (µm)","1·0","0·5","0·2","0·1","−0·3","−0·7","drive"]},
                "axis": {"orient": "left", "domain": false, "ticks": false, "grid": false, "title": null, "labelOverlap": false,
                         "labelFont": "Liberation Sans", "labelFontSize": 13, "labelColor": "black", "labelBaseline": "middle",
                         "labelExpr": "indexof(['hdr','blank','drive'], datum.value) >= 0 ? '' : datum.value",
                         "labelAlign": {"condition": {"test": "datum.value === '1·4 (µm)'", "value": "left"}, "value": "right"},
                         "labelPadding": {"condition": {"test": "datum.value === '1·4 (µm)'", "value": 35}, "value": 14},
                         "labelOffset": {"condition": [
                           {"test": "datum.value === '1·4 (µm)'", "value": -12},
                           {"test": "datum.value === '1·0'", "value": -9},
                           {"test": "datum.value === '0·5'", "value": -11},
                           {"test": "datum.value === '0·2'", "value": -2},
                           {"test": "datum.value === '−0·7'", "value": -8}], "value": 0}}}
        },
        "layer": [
          {"data": {"name": "B_base"},
           "mark": {"type": "rule", "strokeWidth": 0.9},
           "encoding": {
             "x": {"field": "t0", "type": "quantitative", "scale": {"domain": [-3, 297], "nice": false, "zero": false}, "axis": null},
             "x2": {"field": "t1"},
             "color": {"field": "k", "type": "nominal", "scale": {"domain": ["dashdot"], "range": ["#8f8f8f"]}, "legend": null},
             "strokeDash": {"field": "k", "type": "nominal", "scale": {"domain": ["dashdot"], "range": [[7, 2, 2, 2]]}, "legend": null}}},
          {"data": {"name": "B_top"},
           "mark": {"type": "line", "color": "black", "strokeWidth": 1.1},
           "encoding": {
             "x": {"field": "t", "type": "quantitative", "scale": {"domain": [-3, 297], "nice": false, "zero": false}, "axis": null},
             "yOffset": {"field": "i", "type": "quantitative", "scale": {"domain": [-40, 40], "range": [32, -32]}},
             "detail": [{"field": "r"}, {"field": "s"}],
             "order": {"field": "t", "type": "quantitative"}}},
          {"data": {"name": "B_bot"},
           "mark": {"type": "line", "color": "black", "strokeWidth": 1.1},
           "encoding": {
             "x": {"field": "t", "type": "quantitative", "scale": {"domain": [-3, 297], "nice": false, "zero": false}, "axis": null},
             "yOffset": {"field": "i", "type": "quantitative", "scale": {"domain": [-20, 20], "range": [32, -32]}},
             "detail": [{"field": "r"}, {"field": "s"}],
             "order": {"field": "t", "type": "quantitative"}}},
          {"data": {"name": "B_drive"},
           "mark": {"type": "line", "color": "black", "strokeWidth": 1.1},
           "encoding": {
             "x": {"field": "t", "type": "quantitative", "scale": {"domain": [-3, 297], "nice": false, "zero": false}, "axis": null},
             "yOffset": {"field": "i", "type": "quantitative", "scale": {"domain": [0, 1], "range": [0, -8.5]}},
             "order": {"field": "t", "type": "quantitative"}}},
          {"data": {"values": [{"r": "0·2", "label": "40 pA"}, {"r": "−0·7", "label": "20 pA"}]},
           "mark": {"type": "text", "align": "left", "baseline": "middle", "dy": 3, "font": "Liberation Sans", "fontSize": 13, "color": "black"},
           "encoding": {
             "x": {"datum": 275, "type": "quantitative", "scale": {"domain": [-3, 297], "nice": false, "zero": false}, "axis": null},
             "text": {"field": "label"}}},
          {"data": {"values": [{"r": "−0·7", "label": "100 ms"}]},
           "mark": {"type": "text", "align": "center", "baseline": "middle", "dy": 28, "font": "Liberation Sans", "fontSize": 13, "color": "black"},
           "encoding": {
             "x": {"datum": 213, "type": "quantitative", "scale": {"domain": [-3, 297], "nice": false, "zero": false}, "axis": null},
             "text": {"field": "label"}}},
          {"data": {"values": [{"r": "hdr", "panel": "B", "hold": "+ 38 mV"}]},
           "layer": [
             {"mark": {"type": "text", "align": "left", "baseline": "middle", "dy": 10, "font": "Liberation Sans", "fontStyle": "italic", "fontWeight": "bold", "fontSize": 13, "color": "black"},
              "encoding": {
                "x": {"datum": -39, "type": "quantitative", "scale": {"domain": [-3, 297], "nice": false, "zero": false}, "axis": null},
                "text": {"field": "panel"}}},
             {"mark": {"type": "text", "align": "left", "baseline": "middle", "dy": 10, "font": "Liberation Sans", "fontSize": 13, "color": "black"},
              "encoding": {
                "x": {"datum": -14, "type": "quantitative", "scale": {"domain": [-3, 297], "nice": false, "zero": false}, "axis": null},
                "text": {"field": "hold"}}}
           ]}
        ]
      }
    ],
    "spacing": 53,
    "bounds": "flush"
  },
  {
    "width": 816, "height": 332,
    "layer": [
      {"data": {"values": [{"line": "y axis"}]},
       "mark": {"type": "rule", "color": "black", "strokeWidth": 1.3},
       "encoding": {
         "x": {"datum": 0, "type": "quantitative", "scale": {"domain": [-2.3586, 2.2936], "nice": false, "zero": false},
               "axis": {"orient": "bottom", "offset": -63, "values": [-1, -0.5, 0.5, 1, 1.5], "domain": false, "grid": false, "tickSize": 13, "tickColor": "black", "tickWidth": 1.3,
                        "labelExpr": "datum.value === -0.5 ? '' : replace(format(datum.value, '.1f'), '.', '·')",
                        "labelFont": "Liberation Sans", "labelFontSize": 12, "labelColor": "black", "labelPadding": 3, "labelFlush": false, "labelOverlap": false, "title": null}},
         "y": {"datum": -0.25, "type": "quantitative", "scale": {"domain": [-0.325, 1.5678], "nice": false, "zero": false},
               "axis": {"orient": "left", "offset": -417.5, "values": [1], "domain": false, "grid": false, "labels": false, "tickSize": 9, "tickColor": "black", "tickWidth": 1.3, "title": null}},
         "y2": {"datum": 1.5}}},
      {"data": {"values": [{"line": "x axis"}]},
       "mark": {"type": "rule", "color": "black", "strokeWidth": 1.3},
       "encoding": {
         "x": {"datum": -1.323, "type": "quantitative"},
         "x2": {"datum": 1.5},
         "y": {"datum": 0, "type": "quantitative"}}},
      {"data": {"name": "C_curve"},
       "transform": [{"filter": "datum.seg !== 'dash'"}],
       "mark": {"type": "line", "color": "black", "strokeWidth": 1.2, "interpolate": "monotone"},
       "encoding": {
         "x": {"field": "d", "type": "quantitative"},
         "y": {"field": "y", "type": "quantitative"},
         "detail": {"field": "seg"},
         "order": {"field": "d", "type": "quantitative"}}},
      {"data": {"name": "C_curve"},
       "transform": [{"filter": "datum.seg === 'dash'"}],
       "mark": {"type": "line", "color": "black", "strokeWidth": 1.2, "strokeDash": [3, 3]},
       "encoding": {
         "x": {"field": "d", "type": "quantitative"},
         "y": {"field": "y", "type": "quantitative"},
         "order": {"field": "d", "type": "quantitative"}}},
      {"data": {"name": "C_pts"},
       "mark": {"type": "point", "shape": "circle", "filled": true, "stroke": "black", "strokeWidth": 1.1, "opacity": 1},
       "encoding": {
         "x": {"field": "d", "type": "quantitative"},
         "y": {"field": "y", "type": "quantitative"},
         "size": {"field": "Vh", "type": "nominal", "scale": {"domain": ["−50 mV", "+38 mV"], "range": [50, 36]}, "legend": null},
         "fill": {"field": "Vh", "type": "nominal", "scale": {"domain": ["−50 mV", "+38 mV"], "range": ["white", "black"]}, "legend": null}}},
      {"data": {"name": "C_key"},
       "transform": [{"filter": "datum.Vh === '−50 mV'"}],
       "layer": [
         {"mark": {"type": "point", "shape": "circle", "filled": true, "stroke": "black", "strokeWidth": 1.1, "size": 36, "opacity": 1},
          "encoding": {"x": {"datum": 0.055, "type": "quantitative"}, "y": {"datum": 1.066, "type": "quantitative"},
                       "fill": {"field": "Vh", "type": "nominal", "legend": null}}},
         {"mark": {"type": "text", "align": "left", "baseline": "middle", "font": "Liberation Sans", "fontSize": 13, "color": "black"},
          "encoding": {"x": {"datum": 0.093, "type": "quantitative"}, "y": {"datum": 1.066, "type": "quantitative"}, "text": {"field": "label"}}}
       ]},
      {"data": {"name": "C_key"},
       "transform": [{"filter": "datum.Vh === '+38 mV'"}],
       "layer": [
         {"mark": {"type": "point", "shape": "circle", "filled": true, "stroke": "black", "strokeWidth": 1.1, "size": 36, "opacity": 1},
          "encoding": {"x": {"datum": 0.055, "type": "quantitative"}, "y": {"datum": 0.948, "type": "quantitative"},
                       "fill": {"field": "Vh", "type": "nominal", "legend": null}}},
         {"mark": {"type": "text", "align": "left", "baseline": "middle", "font": "Liberation Sans", "fontSize": 13, "color": "black"},
          "encoding": {"x": {"datum": 0.093, "type": "quantitative"}, "y": {"datum": 0.948, "type": "quantitative"}, "text": {"field": "label"}}}
       ]},
      {"data": {"values": [{"panel": "C"}]},
       "mark": {"type": "text", "align": "center", "baseline": "middle", "font": "Liberation Sans", "fontStyle": "italic", "fontWeight": "bold", "fontSize": 14, "color": "black"},
       "encoding": {"x": {"datum": 0.178, "type": "quantitative"}, "y": {"datum": 1.408, "type": "quantitative"}, "text": {"field": "panel"}}},
      {"data": {"values": [{"label": "m-e.t. current"}]},
       "mark": {"type": "text", "align": "center", "baseline": "middle", "angle": 270, "font": "Liberation Sans", "fontSize": 12, "color": "black"},
       "encoding": {"x": {"datum": -0.105, "type": "quantitative"}, "y": {"datum": 0.73, "type": "quantitative"}, "text": {"field": "label"}}},
      {"data": {"values": [{"label": "Displacement (µm)"}]},
       "mark": {"type": "text", "align": "center", "baseline": "middle", "font": "Liberation Sans", "fontSize": 12, "color": "black"},
       "encoding": {"x": {"datum": 0.75, "type": "quantitative"}, "y": {"datum": -0.16, "type": "quantitative"}, "text": {"field": "label"}}}
    ]
  }
]
}
